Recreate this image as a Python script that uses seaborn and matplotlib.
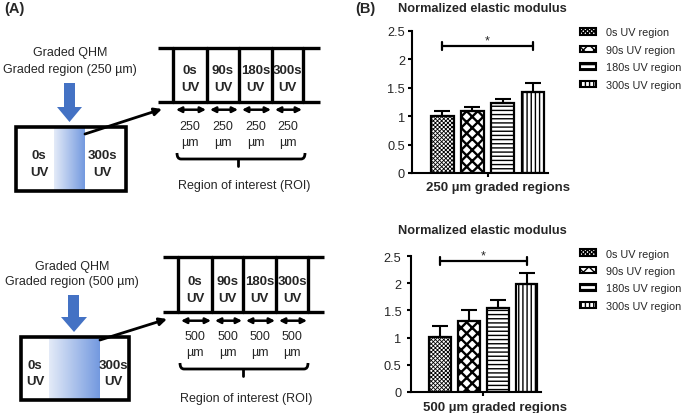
import numpy as np
import pandas as pd
import matplotlib
matplotlib.use("Agg")
import matplotlib.pyplot as plt
import seaborn as sns
from matplotlib.patches import Rectangle, Patch, Polygon, PathPatch
from matplotlib.path import Path
from matplotlib.colors import LinearSegmentedColormap
from matplotlib.container import BarContainer

# ---------------- data ----------------
regions = ["0s UV region", "90s UV region", "180s UV region", "300s UV region"]
mean_250 = [1.00, 1.09, 1.23, 1.43]
err_250 = [0.09, 0.08, 0.07, 0.16]
mean_500 = [1.01, 1.30, 1.55, 1.99]
err_500 = [0.20, 0.21, 0.15, 0.21]
y_ticks = [0, 0.5, 1, 1.5, 2, 2.5]
y_tick_labels = ["0", "0.5", "1", "1.5", "2", "2.5"]
group_labels = ["250 µm graded regions", "500 µm graded regions"]
sig_level = [2.24, 2.41]
chart_title = "Normalized elastic modulus"
cell_times = ["0s", "90s", "180s", "300s"]
widths_um = ["250", "500"]
hatches = ["xxxxxxxx", "xxx", "----", "||||"]
hatch_lw = [0.6, 1.7, 1.0, 1.0]

sns.set_style("ticks")
plt.rcParams["font.family"] = ["Liberation Sans", "DejaVu Sans"]
plt.rcParams["hatch.linewidth"] = 1.0

fig = plt.figure(figsize=(6.85, 4.14), dpi=100)

# ---------------- panel A: schematic (pixel coordinates) ----------------
ax0 = fig.add_axes([0, 0, 1, 1])
ax0.axis("off")
ax0.patch.set_alpha(0)

blue = "#4472C4"
grad_cmap = LinearSegmentedColormap.from_list("g", ["#E4EBF8", "#7399DF"])

layouts = [
    dict(t1=53, t2=70, tx=70, um=widths_um[0],
         shaft=(64, 75, 84, 108), head=(57, 82, 123),
         box=(16, 126, 128, 192), grad=(54, 85),
         lab0=(39, 156, 173), lab300=(102, 156, 173),
         arr=((85, 135), (162, 110)),
         lad=(158, 320, 49, 103), vx=[173, 207, 239, 272, 303],
         cy=(71, 88), ay=110.7, uy=(127, 143),
         br=(177, 305, 160, 238), roi=(244, 186)),
    dict(t1=267, t2=282, tx=72, um=widths_um[1],
         shaft=(68, 79, 296, 318), head=(61, 87, 333),
         box=(21, 129, 338, 401), grad=(49, 100),
         lab0=(35, 366, 382), lab300=(113, 366, 382),
         arr=((100, 341), (167, 320)),
         lad=(163, 324, 258, 312.7), vx=[178, 212, 243, 276, 308],
         cy=(282, 299), ay=321.7, uy=(337, 353),
         br=(180, 308, 370, 243), roi=(246, 399)),
]

for L in layouts:
    ax0.text(L["tx"], L["t1"], "Graded QHM", ha="center", va="center", fontsize=9)
    ax0.text(L["tx"], L["t2"], f"Graded region ({L['um']} µm)", ha="center",
             va="center", fontsize=9)
    x0, x1, y0, y1 = L["shaft"]
    hx0, hx1, tip = L["head"]
    ax0.add_patch(Polygon([(x0, y0), (x1, y0), (x1, y1), (hx1, y1),
                           ((hx0 + hx1) / 2, tip), (hx0, y1), (x0, y1)],
                          closed=True, facecolor=blue, edgecolor="none"))
    bx0, bx1, by0, by1 = L["box"]
    gx0, gx1 = L["grad"]
    ax0.imshow(np.linspace(0, 1, 256)[None, :], cmap=grad_cmap, aspect="auto",
               extent=(gx0, gx1, by1, by0), zorder=1)
    ax0.add_patch(Rectangle((bx0, by0), bx1 - bx0, by1 - by0, fill=False,
                            edgecolor="black", linewidth=2.6, zorder=3))
    for (cx, ya, yb), t in [(L["lab0"], "0s"), (L["lab300"], "300s")]:
        ax0.text(cx, ya, t, ha="center", va="center", fontsize=9.5, fontweight="bold", zorder=4)
        ax0.text(cx, yb, "UV", ha="center", va="center", fontsize=9.5, fontweight="bold", zorder=4)
    (sx, sy), (ex, ey) = L["arr"]
    ax0.annotate("", xy=(ex, ey), xytext=(sx, sy),
                 arrowprops=dict(arrowstyle="-|>", lw=2, color="black",
                                 mutation_scale=11, shrinkA=0, shrinkB=0), zorder=4)
    lx0, lx1, ly0, ly1 = L["lad"]
    ax0.plot([lx0, lx1], [ly0, ly0], color="black", lw=2.4, solid_capstyle="butt")
    ax0.plot([lx0, lx1], [ly1, ly1], color="black", lw=2.4, solid_capstyle="butt")
    vx = L["vx"]
    for x in vx:
        ax0.plot([x, x], [ly0, ly1], color="black", lw=2.4)
    for i in range(4):
        cx = (vx[i] + vx[i + 1]) / 2
        ax0.text(cx, L["cy"][0], cell_times[i], ha="center", va="center",
                 fontsize=9.5, fontweight="bold")
        ax0.text(cx, L["cy"][1], "UV", ha="center", va="center",
                 fontsize=9.5, fontweight="bold")
        ax0.annotate("", xy=(vx[i + 1] - 1, L["ay"]), xytext=(vx[i] + 3, L["ay"]),
                     arrowprops=dict(arrowstyle="<|-|>", lw=1.8, color="black",
                                     mutation_scale=8, shrinkA=0, shrinkB=0))
        ax0.text(cx, L["uy"][0], L["um"], ha="center", va="center", fontsize=9)
        ax0.text(cx, L["uy"][1], "µm", ha="center", va="center", fontsize=9)
    b0, b1, byl, bm = L["br"]
    verts = [(b0, byl - 6), (b0, byl), (b0 + 4, byl), (b1 - 4, byl), (b1, byl), (b1, byl - 6)]
    codes = [Path.MOVETO, Path.CURVE3, Path.CURVE3, Path.LINETO, Path.CURVE3, Path.CURVE3]
    ax0.add_patch(PathPatch(Path(verts, codes), fill=False, edgecolor="black", lw=2))
    ax0.plot([bm, bm], [byl, byl + 7], color="black", lw=2)
    ax0.text(L["roi"][0], L["roi"][1], "Region of interest (ROI)", ha="center",
             va="center", fontsize=9)

ax0.set_xlim(0, 685)
ax0.set_ylim(414, 0)

fig.text(14 / 685, 1 - 9.5 / 414, "(A)", ha="center", va="center", fontsize=10.5,
         fontweight="bold")
fig.text(365 / 685, 1 - 9.5 / 414, "(B)", ha="center", va="center", fontsize=10.5,
         fontweight="bold")


def set_hlw(p, lw):
    if hasattr(p, "set_hatch_linewidth"):
        p.set_hatch_linewidth(lw)


# ---------------- panel B: bar charts ----------------
charts = [
    dict(pos=[412 / 685, 1 - 174 / 414, (548 - 412) / 685, (174 - 32) / 414],
         means=mean_250, errs=err_250, label=group_labels[0], sig=sig_level[0],
         title_y=9, xlabel_xy=(498, 188), legend_y=28.5, pad=2),
    dict(pos=[411 / 685, 1 - 392.7 / 414, (541 - 411) / 685, (392.7 - 257.3) / 414],
         means=mean_500, errs=err_500, label=group_labels[1], sig=sig_level[1],
         title_y=230.7, xlabel_xy=(495, 408), legend_y=249.5, pad=4),
]

for C in charts:
    ax = fig.add_axes(C["pos"])
    df = pd.DataFrame({"group": ["g"] * 4, "region": regions, "value": C["means"]})
    sns.barplot(data=df, x="group", y="value", hue="region", hue_order=regions,
                palette={r: "white" for r in regions}, edgecolor="black",
                linewidth=1.6, gap=0.25, errorbar=None, legend=False, ax=ax)
    bar_containers = [c for c in ax.containers if isinstance(c, BarContainer)]
    centers = []
    for i, cont in enumerate(bar_containers):
        for bar in cont.patches:
            if bar is None:
                continue
            bar.set_hatch(hatches[i])
            set_hlw(bar, hatch_lw[i])
            bar.set_edgecolor("black")
            cx = bar.get_x() + bar.get_width() / 2
            centers.append(cx)
            ax.errorbar(cx, C["means"][i], yerr=[[0], [C["errs"][i]]], fmt="none",
                        ecolor="black", elinewidth=1.5, capsize=5.5, capthick=1.5,
                        zorder=1)
    ax.set_xlim(-0.5, 0.4)
    ax.set_ylim(0, 2.5)
    ax.set_yticks(y_ticks)
    ax.set_yticklabels(y_tick_labels, fontsize=9.2)
    ax.set_xticks([0])
    ax.set_xticklabels([""])
    ax.set_xlabel("")
    ax.set_ylabel("")
    ax.tick_params(axis="both", length=3, width=1.5, color="black", pad=C["pad"])
    for s in ["top", "right"]:
        ax.spines[s].set_visible(False)
    for s in ["left", "bottom"]:
        ax.spines[s].set_linewidth(1.5)
        ax.spines[s].set_color("black")
    ax.patch.set_alpha(0)
    y = C["sig"]
    ax.plot([centers[0], centers[-1]], [y, y], color="black", lw=1.6)
    for x in (centers[0], centers[-1]):
        ax.plot([x, x], [y - 0.07, y + 0.07], color="black", lw=1.6)
    ax.text((centers[0] + centers[-1]) / 2, y + 0.1, "*", ha="center", va="center",
            fontsize=9)
    fig.text(482.5 / 685, 1 - C["title_y"] / 414, chart_title, ha="center",
             va="center", fontsize=9.2, fontweight="bold")
    fig.text(C["xlabel_xy"][0] / 685, 1 - C["xlabel_xy"][1] / 414, C["label"],
             ha="center", va="center", fontsize=9.5, fontweight="bold")
    handles = []
    for h, hl in zip(hatches, hatch_lw):
        p = Patch(facecolor="white", edgecolor="black", hatch=h, linewidth=1.5)
        set_hlw(p, hl)
        handles.append(p)
    fig.legend(handles, regions, loc="upper left",
               bbox_to_anchor=(580 / 685, 1 - C["legend_y"] / 414),
               bbox_transform=fig.transFigure, frameon=False, fontsize=7.8,
               borderpad=0, borderaxespad=0, handlelength=1.45, handleheight=0.55,
               handletextpad=0.95, labelspacing=0.68)

fig.savefig("out.png", dpi=100)
